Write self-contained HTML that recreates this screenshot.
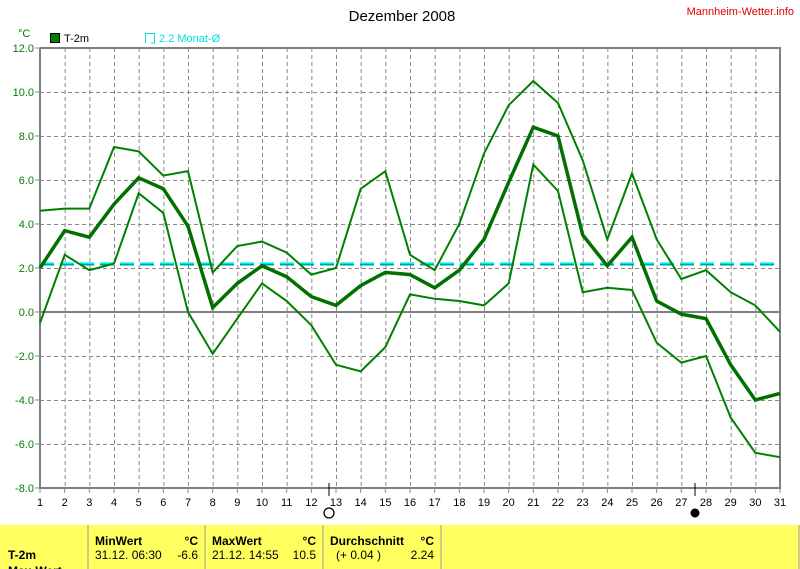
<!DOCTYPE html>
<html><head><meta charset="utf-8"><style>
body{margin:0;background:#fff;width:800px;height:569px;overflow:hidden;font-family:"Liberation Sans",sans-serif}
svg{position:absolute;left:0;top:0}
</style></head><body>
<svg id="s" width="800" height="569" xmlns="http://www.w3.org/2000/svg" font-family="Liberation Sans, sans-serif">
<rect x="0" y="0" width="800" height="569" fill="#fff"/>
<text x="402" y="21" font-size="15" text-anchor="middle">Dezember 2008</text>
<text x="794" y="15" font-size="11" fill="#e00000" text-anchor="end">Mannheim-Wetter.info</text>
<text x="18" y="37" font-size="11" fill="#008000">°C</text>
<rect x="50.5" y="33.5" width="9" height="9" fill="#008000" stroke="#000"/>
<text x="64" y="42" font-size="11">T-2m</text>
<path d="M145.5 43 V33.5 H154.5 V43 H151" fill="none" stroke="#00e0e0"/>
<text x="159" y="42" font-size="11" fill="#00e0e0">2.2 Monat-Ø</text>
<g id="grid"></g>
<line x1="40" y1="264" x2="780" y2="264" stroke="#00a0a0" stroke-width="3" stroke-dasharray="14,6"/>
<line x1="40" y1="263" x2="780" y2="263" stroke="#00ffff" stroke-width="1.5" stroke-dasharray="14,6"/>
<g id="ser"></g>
<rect x="0" y="525" width="800" height="44" fill="#ffff60"/>
<line x1="88" y1="525" x2="88" y2="569" stroke="#999"/>
<line x1="205" y1="525" x2="205" y2="569" stroke="#999"/>
<line x1="323" y1="525" x2="323" y2="569" stroke="#999"/>
<line x1="441" y1="525" x2="441" y2="569" stroke="#999"/>
<line x1="799" y1="525" x2="799" y2="569" stroke="#999"/>
<g font-size="12" font-weight="bold">
<text x="95" y="545">MinWert</text><text x="198" y="545" text-anchor="end">°C</text>
<text x="212" y="545">MaxWert</text><text x="316" y="545" text-anchor="end">°C</text>
<text x="330" y="545">Durchschnitt</text><text x="434" y="545" text-anchor="end">°C</text>
<text x="8" y="559">T-2m</text>
<text x="8" y="575">Max-Wert</text>
</g>
<g font-size="12">
<text x="95" y="559">31.12.  06:30</text><text x="198" y="559" text-anchor="end">-6.6</text>
<text x="212" y="559">21.12.  14:55</text><text x="316" y="559" text-anchor="end">10.5</text>
<text x="336" y="559">(+ 0.04 )</text><text x="434" y="559" text-anchor="end">2.24</text>
</g>
<circle cx="329" cy="513" r="5" fill="#fff" stroke="#000" stroke-width="1.3"/>
<line x1="329" y1="483" x2="329" y2="496" stroke="#000"/>
<circle cx="695" cy="513" r="4.5" fill="#000"/>
<line x1="695" y1="483" x2="695" y2="496" stroke="#000"/>
</svg>
<script>
const NS="http://www.w3.org/2000/svg";
const X=d=>40+(d-1)*740/30, Y=v=>312-v*22;
function el(p,t,a,txt){const e=document.createElementNS(NS,t);for(const k in a)e.setAttribute(k,a[k]);if(txt!==undefined)e.textContent=txt;document.getElementById(p).appendChild(e);return e;}
for(let v=-8;v<=12;v+=2){const y=Y(v);
 if(v!==0&&v!==-8&&v!==12) el("grid","line",{x1:40,y1:y+.5,x2:780,y2:y+.5,stroke:"#888","stroke-dasharray":"4,3"});
 el("grid","line",{x1:35,y1:y,x2:40,y2:y,stroke:"#888"});
 el("grid","text",{x:34,y:y+4,"font-size":11,fill:"#008000","text-anchor":"end"},v.toFixed(1));}
for(let d=1;d<=31;d++){const x=X(d);
 if(d>1&&d<31) el("grid","line",{x1:x+.5,y1:48,x2:x+.5,y2:488,stroke:"#888","stroke-dasharray":"4,3"});
 el("grid","line",{x1:x,y1:488,x2:x,y2:493,stroke:"#888"});
 el("grid","text",{x:x,y:506,"font-size":11,"text-anchor":"middle"},d);}
el("grid","line",{x1:40,y1:312,x2:780,y2:312,stroke:"#808080","stroke-width":2});
el("grid","path",{d:"M40 48 V488 H780 V48 H40",fill:"none",stroke:"#808080","stroke-width":2});
const mean=[2.0,3.7,3.4,4.9,6.1,5.6,3.9,0.2,1.3,2.1,1.6,0.7,0.3,1.2,1.8,1.7,1.1,1.9,3.3,5.9,8.4,8.0,3.5,2.1,3.4,0.5,-0.1,-0.3,-2.4,-4.0,-3.7];
const mx=[4.6,4.7,4.7,7.5,7.3,6.2,6.4,1.8,3.0,3.2,2.7,1.7,2.0,5.6,6.4,2.6,1.9,4.0,7.2,9.4,10.5,9.5,6.9,3.3,6.3,3.3,1.5,1.9,0.9,0.3,-0.9];
const mn=[-0.5,2.6,1.9,2.2,5.4,4.5,0.0,-1.9,-0.3,1.3,0.5,-0.6,-2.4,-2.7,-1.6,0.8,0.6,0.5,0.3,1.3,6.7,5.5,0.9,1.1,1.0,-1.4,-2.3,-2.0,-4.8,-6.4,-6.6];
const pts=a=>a.map((v,i)=>X(i+1).toFixed(1)+","+Y(v).toFixed(1)).join(" ");
el("ser","polyline",{points:pts(mx),fill:"none",stroke:"#008000","stroke-width":2});
el("ser","polyline",{points:pts(mn),fill:"none",stroke:"#008000","stroke-width":2});
el("ser","polyline",{points:pts(mean),fill:"none",stroke:"#007000","stroke-width":3.5});
</script>
</body></html>
